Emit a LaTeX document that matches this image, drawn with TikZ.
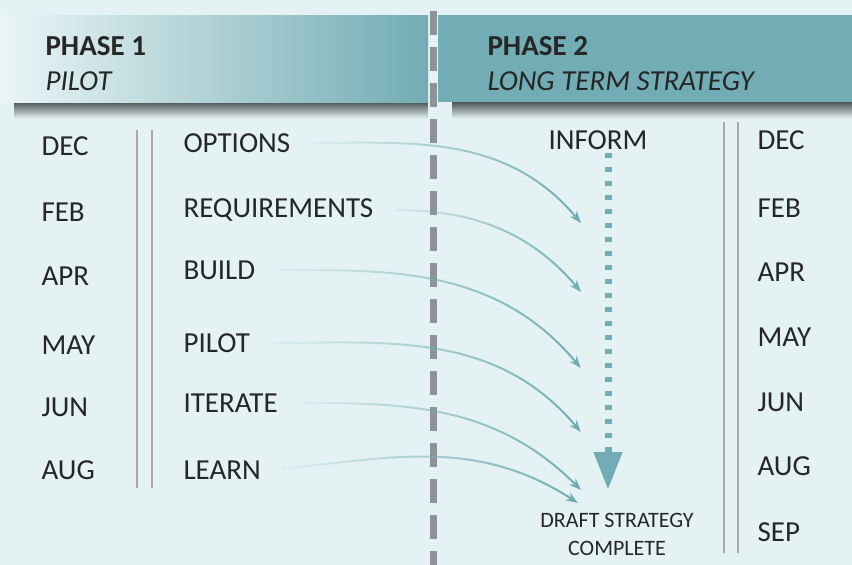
\documentclass[tikz,border=0pt]{standalone}
\usepackage{fontspec}
\setmainfont{Carlito}
\usetikzlibrary{arrows.meta,fadings}

\definecolor{paleaqua}{HTML}{E4F2F3}
\definecolor{sea}{HTML}{72ACB4}
\definecolor{seapale}{HTML}{EAF5F6}
\definecolor{slate}{HTML}{8E939A}
\definecolor{ink}{HTML}{262626}
\definecolor{smoke}{HTML}{4E5456}

% arrows come in from nothing on the left
\tikzfading[name=fade in, left color=transparent!100, middle color=transparent!15, right color=transparent!0]

\tikzset{
  head/.style={anchor=base west, text=ink, font=\fontsize{29}{30}\selectfont\bfseries},
  sub/.style={anchor=base west, text=ink, font=\fontsize{29}{30}\selectfont\itshape},
  month/.style={anchor=west, text=ink, font=\fontsize{29}{30}\selectfont},
  task/.style={anchor=west, text=ink, font=\fontsize{29}{30}\selectfont},
  rule/.style={draw=slate!80, line width=1.4pt},
  flow/.style={draw=sea, line width=2pt, shorten <=18pt, -{Stealth[length=12pt,width=9pt]}, path fading=fade in},
}

\begin{document}
\begin{tikzpicture}[x=1pt,y=1pt]
\useasboundingbox (0,0) rectangle (852,-565);
\fill[paleaqua] (0,0) rectangle (852,-565);

% shadows under the header bands, strip by strip
\foreach \i in {0,...,16} {
  \pgfmathtruncatemacro{\pct}{100-6*\i}
  \fill[smoke!\pct!paleaqua] (14,-102-\i) rectangle (428,-103-\i);
  \fill[smoke!\pct!paleaqua] (452,-102-\i) rectangle (852,-103-\i);
}
\shade[left color=seapale, right color=sea] (0,-15) rectangle (428,-102);
\fill[sea] (438,-15) rectangle (852,-102);

\node[head] (ph1) at (42,-55) {PHASE 1};
\node[sub] (pilot) at (42,-90) {PILOT};
\node[head] (ph2) at (484,-55) {PHASE 2};
\node[sub] (lts) at (484,-90) {LONG TERM STRATEGY};

% phase divider
\draw[slate, line width=7pt, dash pattern=on 24pt off 12pt] (433,-11) -- (433,-565);

% phase 1 months
\node[month] (dec1) at (38,-146) {DEC};
\node[month] (feb1) at (38,-212) {FEB};
\node[month] (apr1) at (38,-276) {APR};
\node[month] (may1) at (38,-345) {MAY};
\node[month] (jun1) at (38,-407) {JUN};
\node[month] (aug1) at (38,-470) {AUG};

\draw[rule] (137,-130) -- (137,-488);
\draw[rule] (152,-130) -- (152,-488);

% phase 1 tasks
\node[task] (opt) at (180,-143) {OPTIONS};
\node[task] (req) at (180,-210) {REQUIREMENTS};
\node[task] (bld) at (180,-270) {BUILD};
\node[task] (plt) at (180,-343) {PILOT};
\node[task] (itr) at (180,-403) {ITERATE};
\node[task] (lrn) at (180,-470) {LEARN};

% phase 2 months
\draw[rule] (724,-122) -- (724,-553);
\draw[rule] (738,-122) -- (738,-553);

\node[month] (dec2) at (754,-140) {DEC};
\node[month] (feb2) at (754,-208) {FEB};
\node[month] (apr2) at (754,-272) {APR};
\node[month] (may2) at (754,-337) {MAY};
\node[month] (jun2) at (754,-402) {JUN};
\node[month] (aug2) at (754,-466) {AUG};
\node[month] (sep2) at (754,-532) {SEP};

% phase 2 column
\node[text=ink, font=\fontsize{29}{30}\selectfont] (inform) at (598,-140) {INFORM};
\node[text=ink, font=\fontsize{22}{28}\selectfont, align=center] (draft) at (617,-534) {DRAFT STRATEGY\\COMPLETE};

\coordinate (infotip) at (608,-490);
\draw[sea, line width=7pt, dash pattern=on 5pt off 9pt, -{Triangle[length=38pt,width=27pt]}]
  (inform.south -| infotip) -- (infotip);

\coordinate (t1) at (581,-223);
\coordinate (t2) at (581,-292);
\coordinate (t3) at (581,-368);
\coordinate (t4) at (581,-432);
\coordinate (t5) at (581,-490);
\coordinate (t6) at (578,-503);

\draw[flow] (opt.east) to[out=0,in=130] (t1);
\draw[flow] (req.east) to[out=0,in=130] (t2);
\draw[flow] (bld.east) to[out=0,in=130] (t3);
\draw[flow] (plt.east) to[out=0,in=130] (t4);
\draw[flow] (itr.east) to[out=0,in=135] (t5);
\draw[flow] (lrn.east) to[out=5,in=147] (t6);
\end{tikzpicture}
\end{document}
